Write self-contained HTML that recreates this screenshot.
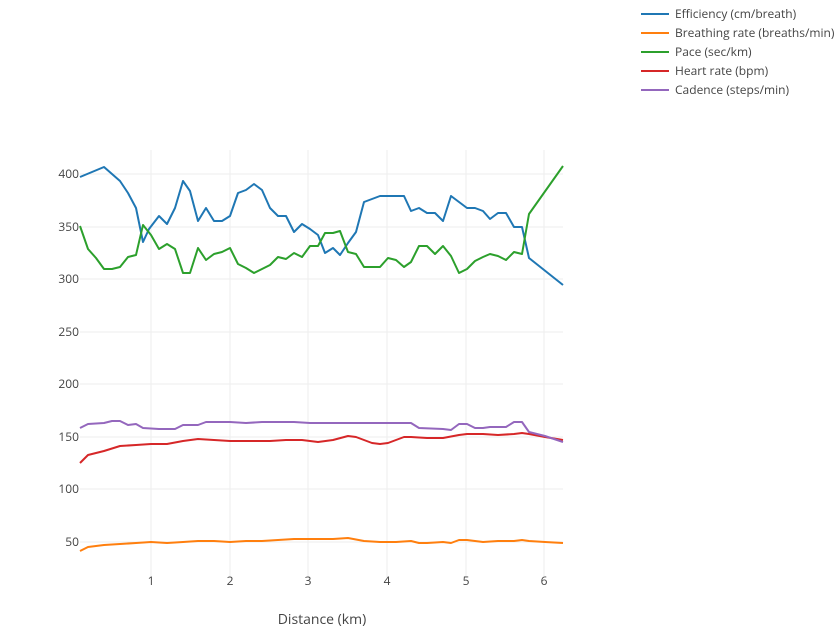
<!DOCTYPE html>
<html><head><meta charset="utf-8"><style>body{margin:0;background:#fff}svg{display:block}text{font-family:"Open Sans","Liberation Sans",sans-serif;fill:#444}</style></head>
<body>
<svg width="840" height="630" xmlns="http://www.w3.org/2000/svg">
<g stroke="#eee" stroke-width="1">
<line x1="151" y1="150" x2="151" y2="578"/><line x1="230" y1="150" x2="230" y2="578"/><line x1="308" y1="150" x2="308" y2="578"/><line x1="387" y1="150" x2="387" y2="578"/><line x1="466" y1="150" x2="466" y2="578"/><line x1="544" y1="150" x2="544" y2="578"/>
<line x1="80" y1="174" x2="563" y2="174"/><line x1="80" y1="227" x2="563" y2="227"/><line x1="80" y1="279" x2="563" y2="279"/><line x1="80" y1="332" x2="563" y2="332"/><line x1="80" y1="384" x2="563" y2="384"/><line x1="80" y1="437" x2="563" y2="437"/><line x1="80" y1="489" x2="563" y2="489"/><line x1="80" y1="542" x2="563" y2="542"/>
</g>
<g font-size="12" text-anchor="end">
<text x="79" y="178">400</text><text x="79" y="231">350</text><text x="79" y="283">300</text><text x="79" y="336">250</text><text x="79" y="388">200</text><text x="79" y="441">150</text><text x="79" y="493">100</text><text x="79" y="546">50</text>
</g>
<g font-size="12" text-anchor="middle">
<text x="151" y="585">1</text><text x="230" y="585">2</text><text x="308" y="585">3</text><text x="387" y="585">4</text><text x="466" y="585">5</text><text x="544" y="585">6</text>
<text x="322" y="624" font-size="14">Distance (km)</text>
</g>
<g fill="none" stroke-width="2" stroke-linejoin="round">
<polyline stroke="#1f77b4" points="80,177 104,167 120,181 128,193 136,208 143,242 149,229 159,216 167,224 175,208 183,181 190,191 198,221 206,208 214,221 222,221 230,216 238,193 246,190 254,184 262,190 270,208 278,216 286,216 294,232 302,224 310,229 318,235 325,253 333,248 340,255 348,243 356,232 364,202 372,199 380,196 388,196 396,196 404,196 411,211 419,208 427,213 435,213 443,221 451,196 459,202 467,208 475,208 483,211 490,219 498,213 506,213 514,227 522,227 529,258 563,285"/>
<polyline stroke="#ff7f0e" points="80,551 88,547 104,545 120,544 136,543 151,542 167,543 183,542 198,541 214,541 230,542 246,541 262,541 278,540 294,539 318,539 333,539 348,538 364,541 380,542 396,542 411,541 419,543 427,543 443,542 451,543 459,540 467,540 483,542 498,541 514,541 522,540 529,541 545,542 563,543"/>
<polyline stroke="#2ca02c" points="80,226 88,249 96,258 104,269 112,269 120,267 128,257 136,255 143,225 151,235 159,249 167,244 175,249 183,273 190,273 198,248 206,260 214,254 222,252 230,248 238,264 246,268 254,273 262,269 270,265 278,257 286,259 294,253 302,257 310,246 318,246 325,233 333,233 340,231 348,252 356,254 364,267 372,267 380,267 388,258 396,260 404,267 411,262 419,246 427,246 435,254 443,246 451,256 459,273 467,269 475,261 483,257 490,254 498,256 506,260 514,252 522,254 529,214 563,166"/>
<polyline stroke="#d62728" points="80,463 88,455 104,451 120,446 136,445 151,444 167,444 183,441 198,439 214,440 230,441 246,441 270,441 286,440 302,440 318,442 333,440 348,436 356,437 364,440 372,443 380,444 388,443 396,440 404,437 411,437 427,438 443,438 459,435 467,434 483,434 498,435 514,434 522,433 529,434 545,437 563,440"/>
<polyline stroke="#9467bd" points="80,428 88,424 104,423 112,421 120,421 128,425 136,424 143,428 159,429 175,429 183,425 198,425 206,422 214,422 230,422 246,423 262,422 278,422 294,422 310,423 348,423 364,423 380,423 411,423 419,428 443,429 451,430 459,424 467,424 475,428 483,428 490,427 506,427 514,422 522,422 529,432 545,436 563,442"/>
</g>
<g stroke-width="2">
<line x1="641" y1="14" x2="669" y2="14" stroke="#1f77b4"/>
<line x1="641" y1="33" x2="669" y2="33" stroke="#ff7f0e"/>
<line x1="641" y1="52" x2="669" y2="52" stroke="#2ca02c"/>
<line x1="641" y1="71" x2="669" y2="71" stroke="#d62728"/>
<line x1="641" y1="90" x2="669" y2="90" stroke="#9467bd"/>
</g>
<g font-size="12">
<text x="675" y="18">Efficiency (cm/breath)</text>
<text x="675" y="37">Breathing rate (breaths/min)</text>
<text x="675" y="56">Pace (sec/km)</text>
<text x="675" y="75">Heart rate (bpm)</text>
<text x="675" y="94">Cadence (steps/min)</text>
</g>
</svg>
</body></html>
